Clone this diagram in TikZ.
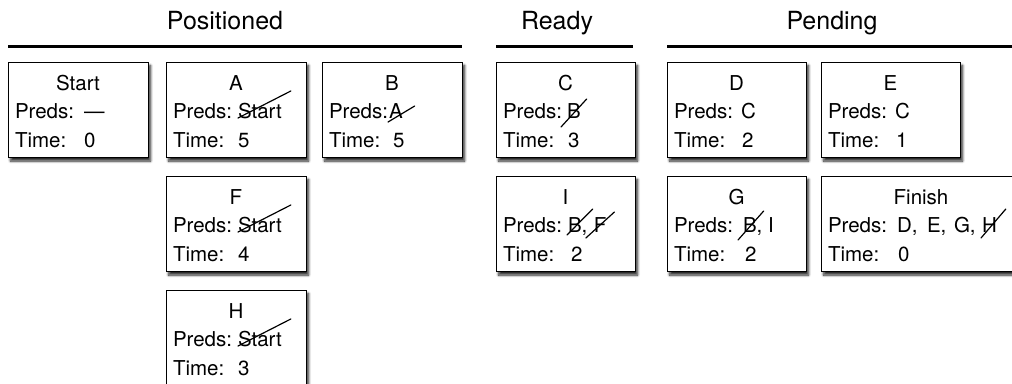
\documentclass[tikz,border=0pt]{standalone}
\usepackage{fontspec}
\setmainfont{TeX Gyre Heros}
\usetikzlibrary{shadows.blur}
\tikzset{
  box/.style={draw=black, line width=1pt, fill=white, minimum height=95.5pt,
    inner sep=0pt, outer sep=0pt, anchor=north west,
    blur shadow={shadow xshift=2.5pt, shadow yshift=-3.5pt, shadow blur steps=8,
      shadow opacity=85, shadow blur radius=2.5pt}},
  txt/.style={inner sep=0pt, outer sep=0pt, font=\fontsize{20.5}{24}\selectfont},
  head/.style={inner sep=0pt, outer sep=0pt, anchor=base, font=\fontsize{25}{30}\selectfont},
  rulebar/.style={line width=3pt},
  strike/.style={line width=1.2pt, line cap=round},
}
\newcommand\taskbox[5]{%
  \node[box, minimum width=#4pt] (#1) at (#2,#3) {};
  \node[txt, anchor=base] (#1-title) at ({#2+#4/2},{#3+28}) {#5};
  \node[txt, anchor=base west] (#1-pl) at ({#2+7},{#3+56}) {Preds:};
  \node[txt, anchor=base west] (#1-tl) at ({#2+7},{#3+85}) {Time:};
}
\newcommand\val[4]{\node[txt, anchor=base west] (#1) at (#2,#3) {#4};}
\begin{document}
\begin{tikzpicture}[x=1pt, y=-1pt]
\useasboundingbox (0,0) rectangle (1012,383);
\clip (0,0) rectangle (1012,383);
% headings
\node[head] (hpos) at (225,29) {Positioned};
\node[head] (hready) at (557,29) {Ready};
\node[head] (hpend) at (832,29) {Pending};
\draw[rulebar] (8,46) -- (462,46);
\draw[rulebar] (496,46) -- (633,46);
\draw[rulebar] (667,46) -- (1020,46);
% row 1
\taskbox{start}{8}{62}{140}{Start}
\val{start-p}{84}{118}{\textemdash}
\val{start-t}{84}{147}{0}
\taskbox{a}{166}{62}{140}{A}
\val{a-p}{238}{118}{Start}
\val{a-t}{238}{147}{5}
\taskbox{b}{322}{62}{140}{B}
\val{b-p}{389}{118}{A}
\val{b-t}{393}{147}{5}
\taskbox{c}{496}{62}{139}{C}
\val{c-p}{567}{118}{B}
\val{c-t}{568}{147}{3}
\taskbox{d}{667}{62}{139}{D}
\val{d-p}{741}{118}{C}
\val{d-t}{742}{147}{2}
\taskbox{e}{821}{62}{139}{E}
\val{e-p}{895}{118}{C}
\val{e-t}{896}{147}{1}
% row 2
\taskbox{f}{166}{176}{140}{F}
\val{f-p}{238}{232}{Start}
\val{f-t}{238}{261}{4}
\taskbox{i}{496}{176}{139}{I}
\val{i-b}{568}{232}{B}
\node[txt, anchor=base west] (i-c) at (i-b.base east) {,};
\node[txt, anchor=base west] (i-f) at ([xshift=6.5pt]i-c.base east) {F};
\val{i-t}{571}{261}{2}
\taskbox{g}{667}{176}{139}{G}
\val{g-b}{743}{232}{B}
\node[txt, anchor=base west] (g-c) at (g-b.base east) {, I};
\val{g-t}{745}{261}{2}
\taskbox{fin}{821}{176}{200}{Finish}
\val{fin-d}{897}{232}{D,}
\val{fin-e}{927}{232}{E,}
\val{fin-g}{954}{232}{G,}
\val{fin-h}{982}{232}{H}
\val{fin-t}{898}{261}{0}
% row 3
\taskbox{h}{166}{290}{140}{H}
\val{h-p}{238}{346}{Start}
\val{h-t}{238}{375}{3}
% strike-throughs
\draw[strike] (a-p.base west) -- ([shift={(9,-27)}]a-p.base east);
\draw[strike] (f-p.base west) -- ([shift={(9,-27)}]f-p.base east);
\draw[strike] (h-p.base west) -- ([shift={(9,-27)}]h-p.base east);
\draw[strike] ([shift={(-1,4)}]b-p.base west) -- ([shift={(12,-12)}]b-p.base east);
\draw[strike] ([shift={(-6,9)}]c-p.base west) -- ([shift={(6,-19)}]c-p.base east);
\draw[strike] ([shift={(-1,3)}]i-b.base west) -- ([shift={(11,-23)}]i-b.base east);
\draw[strike] ([shift={(-8,6)}]i-f.base west) -- ([shift={(8,-20)}]i-f.base east);
\draw[strike] ([shift={(-5,8)}]g-b.base west) -- ([shift={(7,-21)}]g-b.base east);
\draw[strike] ([shift={(-1,6)}]fin-h.base west) -- ([shift={(9,-23)}]fin-h.base east);
\end{tikzpicture}
\end{document}
